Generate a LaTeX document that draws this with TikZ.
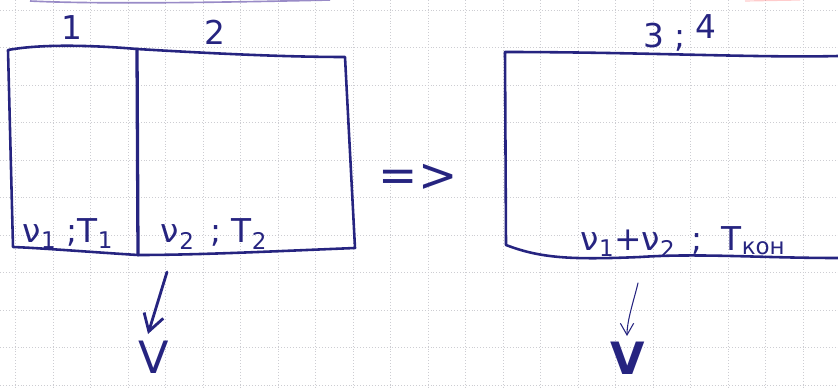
\documentclass[tikz,border=0pt]{standalone}
\usepackage{fontspec}
\setmainfont{DejaVu Sans}
\usetikzlibrary{arrows.meta}
\definecolor{ink}{RGB}{38,36,128}
\definecolor{gridc}{RGB}{205,205,210}
\definecolor{faint}{RGB}{110,90,175}
\tikzset{
  pen/.style={draw=ink, line width=2.2pt, line join=round, line cap=round},
  lbl/.style={text=ink, inner sep=0pt, font=\fontsize{28}{30}\selectfont},
  biglbl/.style={text=ink, inner sep=0pt, font=\fontsize{40}{42}\selectfont},
  gridline/.style={draw=gridc, line width=0.5pt, dotted},
  downarrow/.style={draw=ink, line cap=round, line join=round}
}
\begin{document}
\begin{tikzpicture}[x=0.03cm,y=-0.03cm]
\useasboundingbox (0,0) rectangle (838,387);
% graph paper
\foreach \i in {0,...,22} \draw[gridline] (15.5+37.5*\i,0) -- (15.5+37.5*\i,387);
\foreach \j in {0,...,10} \draw[gridline] (0,10+37.5*\j) -- (838,10+37.5*\j);
% faint stroke at the top edge
\draw[draw=faint, line width=1.4pt, opacity=0.7] (30,1) .. controls (90,4) and (200,3) .. (330,0);
\draw[draw=red!50, line width=1pt, opacity=0.4] (745,1) -- (800,0);
% left vessel
\draw[pen] (8,50) .. controls (40,44) and (90,45) .. (137,49)
  .. controls (220,54) and (290,57) .. (345,57) -- (355,248)
  .. controls (280,251) and (200,255) .. (138,255) .. controls (90,252) and (40,248) .. (13,247) -- cycle;
\draw[pen, line width=2.8pt] (137,49) -- (138,255);
\node[lbl] (n1) at (72,28) {1};
\node[lbl] (n2) at (215,32) {2};
\node[lbl, anchor=base] (s1) at (68,242) {ν\textsubscript{1} ;T\textsubscript{1}};
\node[lbl, anchor=base] (s2) at (214,242) {ν\textsubscript{2} \,; T\textsubscript{2}};
% implication sign
\node[biglbl] (imp) at (418,178) {=>};
% right vessel
\draw[pen] (838,56) .. controls (760,58) and (640,52) .. (505,52) -- (506,245)
  .. controls (540,258) and (570,260) .. (640,257) .. controls (700,253) and (760,258) .. (838,258);
\node[lbl] (n34) at (680,33) {3 ; \raisebox{0.3em}{4}};
\node[lbl, anchor=base] (s3) at (683,250) {ν\textsubscript{1}+ν\textsubscript{2} \,; \;T\textsubscript{кон}};
% outcomes
\node[biglbl, anchor=base, font=\fontsize{38}{40}\selectfont] (v1) at (154,373) {V};
\node[biglbl, anchor=base, font=\bfseries\fontsize{38}{40}\selectfont] (v2) at (628,374) {V};
\coordinate (a1) at (167,272);
\coordinate (b1) at (148,334);
\coordinate (a2) at (638,283);
\coordinate (b2) at (627,336);
\draw[downarrow, line width=2.4pt, -{Straight Barb[length=5mm,width=6mm]}] (a1) -- (b1);
\draw[downarrow, line width=0.9pt, -{Straight Barb[length=3.5mm,width=4mm]}] (a2) .. controls (634,300) and (627,320) .. (b2);
\end{tikzpicture}
\end{document}
